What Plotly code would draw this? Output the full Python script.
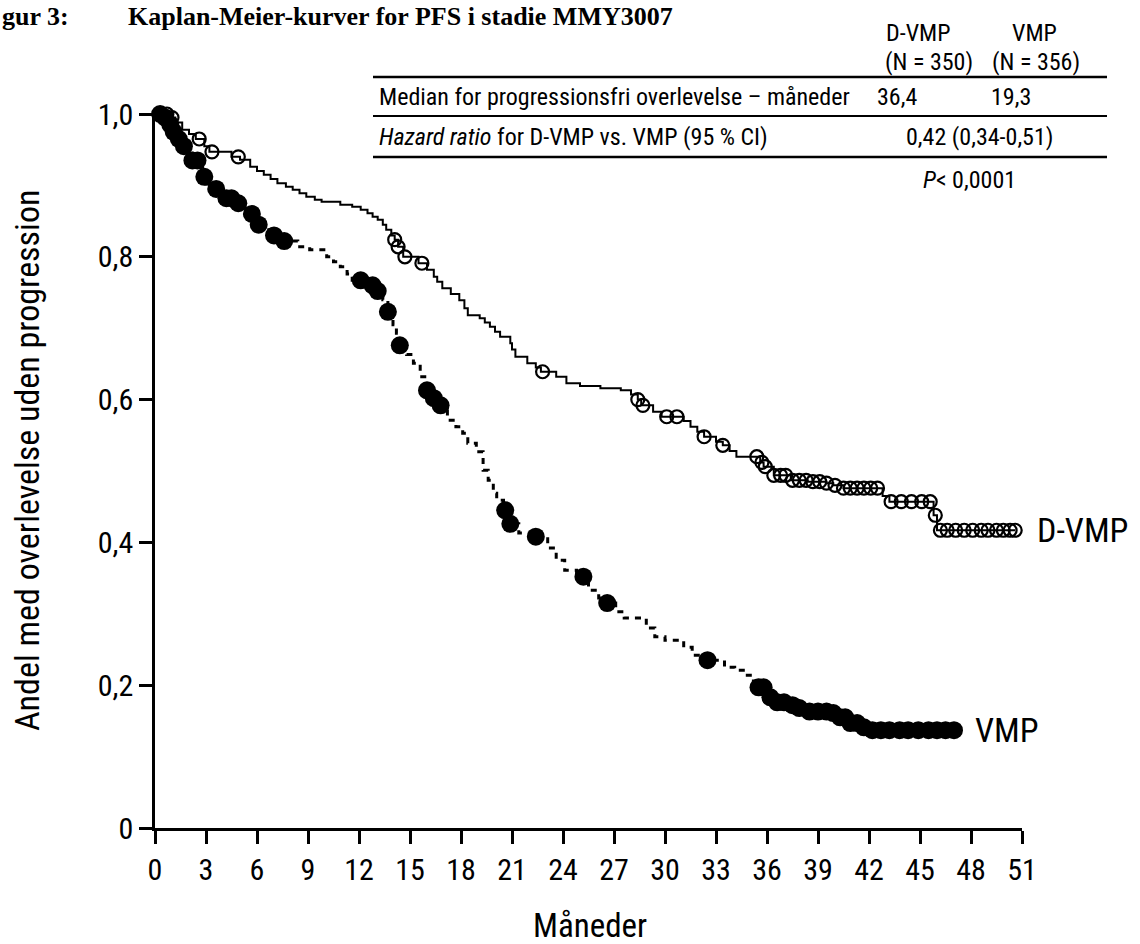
import numpy as np
import plotly.graph_objects as go

# ---------------- data ----------------
dvmp_t = [0, 0.8, 1.2, 1.6, 2.0, 2.4, 2.9, 3.2, 4.5, 5.0, 5.6, 6.0, 6.4, 6.8, 7.2, 7.7, 8.1, 8.5, 8.9, 9.4,
          9.8, 10.9, 11.6, 12.1, 12.5, 12.8, 13.1, 13.4, 13.6, 13.9, 14.1, 14.3, 14.6, 15.5, 16.0, 16.4, 16.6,
          16.9, 17.4, 17.9, 18.2, 18.4, 19.1, 19.4, 19.7, 20.0, 20.3, 20.9, 21.0, 21.2, 21.9, 22.4, 22.7, 23.6,
          24.2, 25.0, 26.2, 27.4, 28.0, 28.4, 28.6, 29.3, 29.8, 31.1, 31.5, 31.9, 32.3, 33.0, 33.4, 33.8, 34.2,
          35.6, 35.8, 36.4, 37.4, 38.4, 39.5, 39.9, 40.5, 42.8, 43.2, 45.8, 46.0, 50.6]
dvmp_s = [1.0, 0.995, 0.988, 0.978, 0.972, 0.965, 0.955, 0.947, 0.94, 0.936, 0.926, 0.92, 0.915, 0.909, 0.903,
          0.898, 0.894, 0.889, 0.884, 0.88, 0.877, 0.873, 0.87, 0.866, 0.861, 0.856, 0.852, 0.845, 0.838, 0.83,
          0.824, 0.814, 0.8, 0.791, 0.782, 0.772, 0.765, 0.756, 0.748, 0.739, 0.728, 0.718, 0.714, 0.708, 0.702,
          0.695, 0.688, 0.679, 0.67, 0.66, 0.651, 0.645, 0.639, 0.632, 0.623, 0.619, 0.616, 0.613, 0.607, 0.6,
          0.592, 0.583, 0.576, 0.57, 0.562, 0.555, 0.548, 0.541, 0.536, 0.528, 0.52, 0.512, 0.506, 0.494, 0.487,
          0.485, 0.483, 0.48, 0.476, 0.465, 0.457, 0.438, 0.417, 0.417]
dvmp_censor = [0.3, 0.7, 1.0, 2.6, 3.35, 4.9, 14.1, 14.3, 14.7, 15.7, 22.8, 28.4, 28.7, 30.1, 30.7, 32.3, 33.4,
               35.4, 35.7, 35.9, 36.4, 36.8, 37.1, 37.5, 37.9, 38.3, 38.7, 39.1, 39.5, 40.0, 40.5, 40.9, 41.3,
               41.7, 42.1, 42.5, 43.3, 43.9, 44.5, 45.1, 45.6, 45.9, 46.2, 46.6, 47.1, 47.6, 48.1, 48.6, 49.0,
               49.5, 49.9, 50.3, 50.6]

vmp_t = [0, 0.5, 0.9, 1.1, 1.4, 1.7, 2.0, 2.2, 2.6, 2.8, 3.0, 3.4, 3.7, 4.2, 4.6, 5.0, 5.4, 5.8, 6.1, 6.6, 7.0,
         7.5, 8.4, 9.1, 10.1, 10.5, 10.9, 11.3, 11.6, 12.4, 13.0, 13.4, 13.7, 14.0, 14.2, 14.4, 14.8, 15.2, 15.6,
         16.0, 16.4, 16.8, 17.2, 17.7, 18.1, 18.4, 18.9, 19.3, 19.6, 19.9, 20.1, 20.5, 20.9, 21.4, 22.3, 23.1,
         23.6, 24.1, 24.8, 25.5, 26.1, 26.5, 27.1, 27.6, 28.5, 28.9, 29.4, 30.0, 31.1, 31.6, 32.2, 33.5, 34.1,
         34.7, 35.2, 35.5, 36.2, 36.6, 37.3, 37.9, 38.5, 39.9, 40.3, 40.9, 41.6, 42.2, 47.0]
vmp_s = [1.0, 0.995, 0.985, 0.975, 0.965, 0.955, 0.945, 0.935, 0.925, 0.912, 0.902, 0.895, 0.888, 0.882, 0.875,
         0.868, 0.86, 0.853, 0.845, 0.838, 0.83, 0.822, 0.814, 0.81, 0.8, 0.793, 0.786, 0.776, 0.767, 0.76, 0.752,
         0.74, 0.723, 0.705, 0.693, 0.676, 0.663, 0.651, 0.632, 0.613, 0.602, 0.592, 0.571, 0.562, 0.553, 0.539,
         0.527, 0.501, 0.487, 0.469, 0.459, 0.445, 0.426, 0.413, 0.408, 0.392, 0.375, 0.361, 0.352, 0.333, 0.322,
         0.315, 0.303, 0.294, 0.291, 0.28, 0.268, 0.263, 0.253, 0.242, 0.235, 0.225, 0.221, 0.214, 0.205, 0.197,
         0.183, 0.176, 0.172, 0.168, 0.163, 0.161, 0.155, 0.147, 0.141, 0.137, 0.137]
vmp_censor = [0.3, 0.6, 0.9, 1.1, 1.4, 1.7, 2.2, 2.5, 2.9, 3.6, 4.2, 4.5, 4.9, 5.7, 6.1, 7.0, 7.6, 12.1, 12.8, 13.1,
              13.7, 14.4, 16.0, 16.4, 16.8, 20.6, 20.9, 22.4, 25.2, 26.6, 32.5, 35.5, 35.8, 36.2, 36.6, 37.0, 37.5,
              37.9, 38.5, 39.0, 39.5, 39.9, 40.3, 40.6, 40.9, 41.3, 41.7, 42.2, 42.7, 43.2, 43.8, 44.3, 44.9, 45.5,
              46.0, 46.5, 47.0]

x_ticks = list(range(0, 52, 3))
y_ticks = [0, 0.2, 0.4, 0.6, 0.8, 1.0]
y_ticktext = ["0", "0,2", "0,4", "0,6", "0,8", "1,0"]


def step_at(times, surv, t):
    idx = np.searchsorted(np.array(times), np.array(t), side="right") - 1
    return list(np.array(surv)[idx])


FONT = "'Liberation Sans Narrow', 'Arial Narrow', 'Roboto Condensed', 'DejaVu Sans Condensed', sans-serif"

fig = go.Figure()
fig.add_trace(go.Scatter(x=dvmp_t, y=dvmp_s, mode="lines", line=dict(shape="hv", color="black", width=2),
                         hoverinfo="skip"))
fig.add_trace(go.Scatter(x=dvmp_censor, y=step_at(dvmp_t, dvmp_s, dvmp_censor), mode="markers",
                         marker=dict(symbol="circle-open", size=13, color="black", line=dict(width=2.2)),
                         cliponaxis=False))
fig.add_trace(go.Scatter(x=vmp_t, y=vmp_s, mode="lines", line=dict(shape="hv", color="black", width=3,
                                                                  dash="6px,6px"), hoverinfo="skip"))
fig.add_trace(go.Scatter(x=vmp_censor, y=step_at(vmp_t, vmp_s, vmp_censor), mode="markers",
                         marker=dict(symbol="circle", size=18, color="black"), cliponaxis=False))

L, T = 155, 114
PW, PH = 1022 - 155, 828 - 114


def px(x):
    return (x - L) / PW


def py(y):
    return (T + PH - y) / PH


fig.update_layout(
    width=1140, height=944, showlegend=False,
    margin=dict(l=L, r=1140 - 1022, t=T, b=944 - 828, pad=0),
    plot_bgcolor="white", paper_bgcolor="white",
    font=dict(family=FONT, color="black"),
    xaxis=dict(range=[0, 51], tickvals=x_ticks, showline=True, linecolor="black", linewidth=3,
               ticks="outside", ticklen=13, tickwidth=2.5, tickcolor="black", showgrid=False, zeroline=False,
               tickfont=dict(size=30, family=FONT)),
    yaxis=dict(range=[0, 1], tickvals=y_ticks, ticktext=y_ticktext, showline=True, linecolor="black",
               linewidth=2.5, ticks="outside", ticklen=13, tickwidth=2.5, tickcolor="black", showgrid=False,
               zeroline=False, tickfont=dict(size=30, family=FONT)),
)

ann = []


def A(text, x, y, size, xanchor="center", yanchor="middle", **kw):
    ann.append(dict(text=text, x=px(x), y=py(y), xref="paper", yref="paper", showarrow=False,
                    xanchor=xanchor, yanchor=yanchor, font=dict(size=size, family=kw.pop("family", FONT),
                                                                color="black"), **kw))


# title
TF = "'Liberation Serif', 'Times New Roman', serif"
A("<b>gur 3:</b>", 0, 0, 26, xanchor="left", yanchor="top", family=TF)
A("<b>Kaplan-Meier-kurver for PFS i stadie MMY3007</b>", 126, 0, 26, xanchor="left", yanchor="top", family=TF)

# table
TS = 24
A("D-VMP", 918, 33, TS)
A("VMP", 1034, 33, TS)
A("(N = 350)", 929, 62, TS)
A("(N = 356)", 1036, 62, TS)
A("Median for progressionsfri overlevelse – måneder", 377, 97, TS, xanchor="left")
A("36,4", 897, 97, TS)
A("19,3", 1011, 97, TS)
A("<i>Hazard ratio</i> for D-VMP vs. VMP (95 % CI)", 377, 137, TS, xanchor="left")
A("0,42 (0,34-0,51)", 979, 137, TS)
A("<i>P</i>< 0,0001", 969, 180, TS)

# curve labels and axis titles
A("D-VMP", 1035, 530, 34, xanchor="left")
A("VMP", 973, 730, 34, xanchor="left")
A("Måneder", 590, 925, 33)
A("Andel med overlevelse uden progression", 27, 461, 34, textangle=-90)

fig.update_layout(annotations=ann)

shapes = []
for yy, w in [(77, 2.5), (116, 1.8), (157, 2.5)]:
    shapes.append(dict(type="line", xref="paper", yref="paper", x0=px(373), x1=px(1107), y0=py(yy), y1=py(yy),
                       line=dict(color="black", width=w)))
fig.update_layout(shapes=shapes)

fig.write_html("out.html")
